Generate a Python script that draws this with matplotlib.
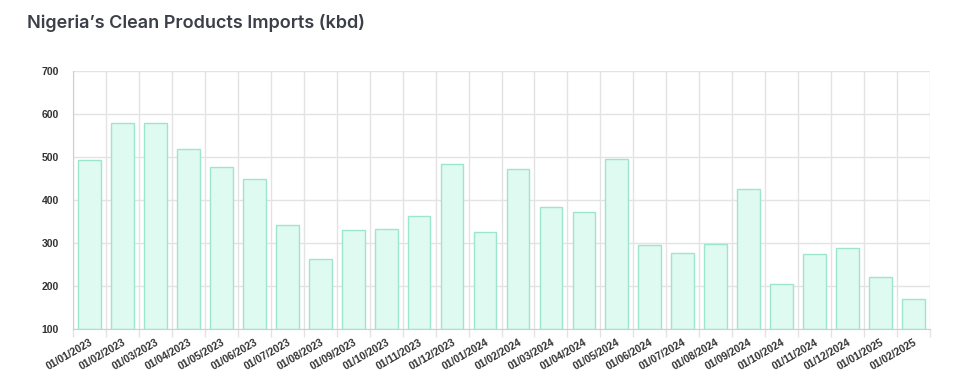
import matplotlib
matplotlib.use("Agg")
import matplotlib.pyplot as plt
import numpy as np

dates = ["01/01/2023", "01/02/2023", "01/03/2023", "01/04/2023", "01/05/2023", "01/06/2023",
         "01/07/2023", "01/08/2023", "01/09/2023", "01/10/2023", "01/11/2023", "01/12/2023",
         "01/01/2024", "01/02/2024", "01/03/2024", "01/04/2024", "01/05/2024", "01/06/2024",
         "01/07/2024", "01/08/2024", "01/09/2024", "01/10/2024", "01/11/2024", "01/12/2024",
         "01/01/2025", "01/02/2025"]
imports_kbd = [493, 579, 580, 518, 476, 449, 342, 263, 330, 332, 363, 484,
               325, 472, 384, 371, 495, 295, 277, 298, 426, 204, 274, 288,
               220, 170]
y_ticks = [100, 200, 300, 400, 500, 600, 700]

fig = plt.figure(figsize=(9.56, 3.88), dpi=100)
ax = fig.add_axes([73/956, 1-329/388, (930-73)/956, (329-71)/388])

x = np.arange(len(dates))
ax.bar(x, [v - 100 for v in imports_kbd], bottom=100, width=0.69,
       color="#dffbf1", edgecolor="#9ce6cc", linewidth=1.0, zorder=2)

tick_font = dict(family=["Liberation Sans", "DejaVu Sans"], size=7.5, weight="bold")

ax.set_xlim(-0.5, len(dates) - 0.5)
ax.set_ylim(100, 700)
ax.set_yticks(y_ticks)
ax.set_yticklabels([str(t) for t in y_ticks], color="#333333", fontdict=tick_font)

ax.set_xticks(x)
ax.set_xticklabels(dates, rotation=30, ha="right", rotation_mode="anchor",
                   color="#333333", fontdict=tick_font)
ax.tick_params(axis="x", length=0, pad=6)
ax.tick_params(axis="y", length=0, pad=10)

# grid at category boundaries
ax.set_xticks(np.arange(-0.5, len(dates), 1), minor=True)
ax.tick_params(axis="x", which="minor", length=6, color="#e3e3e3", width=1)
ax.grid(True, which="minor", axis="x", color="#e3e3e3", linewidth=1, zorder=0)
ax.grid(True, which="major", axis="y", color="#e3e3e3", linewidth=1, zorder=0)
ax.grid(False, which="major", axis="x")
ax.set_axisbelow(True)

for s in ["top", "right"]:
    ax.spines[s].set_visible(False)
ax.spines["left"].set_color("#cfcfcf")
ax.spines["bottom"].set_color("#cfcfcf")

fig.text(27/956, 1-23/388, "Nigeria\u2019s Clean Products Imports (kbd)", fontsize=13,
         fontweight="semibold", color="#3b3f48", family=["Inter", "DejaVu Sans"],
         ha="left", va="center")

fig.savefig("out.png", dpi=100, facecolor="white")
